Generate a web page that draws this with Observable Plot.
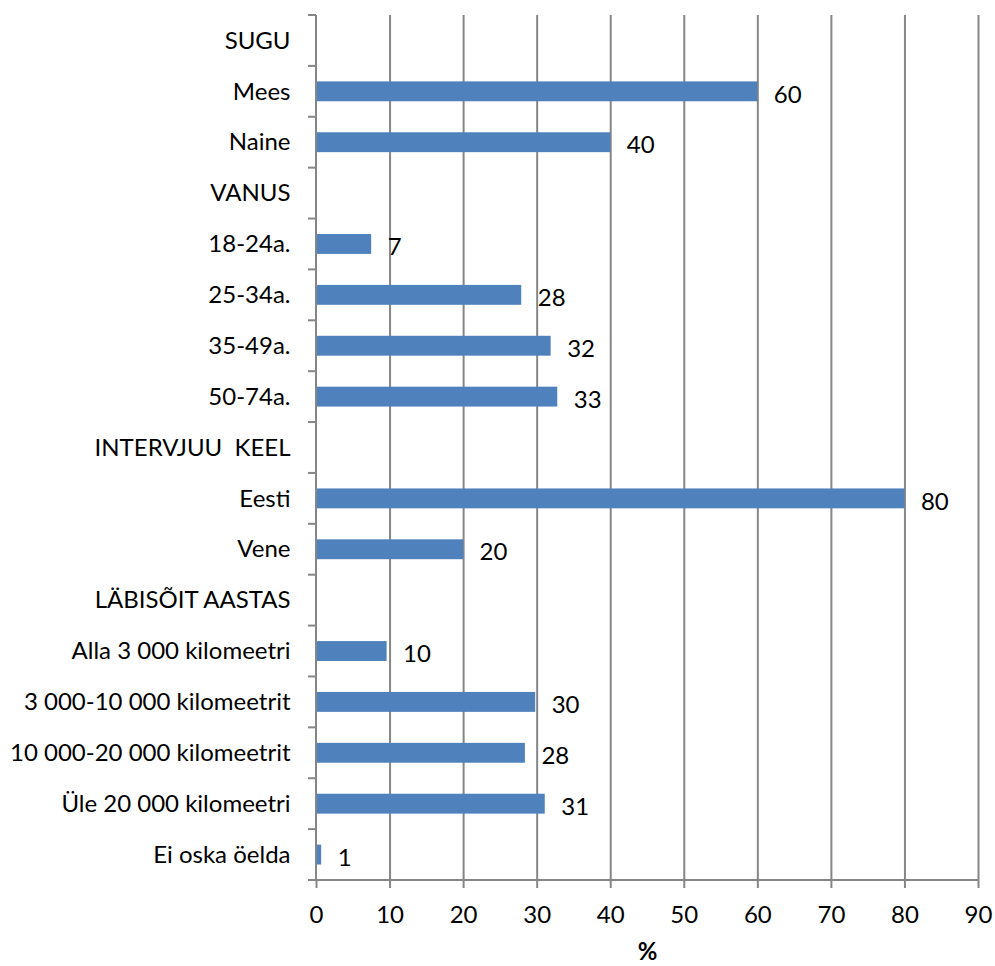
<!DOCTYPE html>
<html>
<head>
<meta charset="utf-8">
<script src="https://cdn.jsdelivr.net/npm/d3@7"></script>
<script src="https://cdn.jsdelivr.net/npm/@observablehq/plot@0.6"></script>
<style>
  html, body { margin: 0; padding: 0; background: #fff; overflow: hidden; }
  #chart svg { display: block; }
</style>
</head>
<body>
<div id="chart"></div>
<script>
const categories = [
  "SUGU", "Mees", "Naine",
  "VANUS", "18-24a.", "25-34a.", "35-49a.", "50-74a.",
  "INTERVJUU  KEEL", "Eesti", "Vene",
  "LÄBISÕIT AASTAS", "Alla 3 000 kilomeetri", "3 000-10 000 kilomeetrit",
  "10 000-20 000 kilomeetrit", "Üle 20 000 kilomeetri", "Ei oska öelda"
];
const values = [null, 60, 40, null, 7.5, 27.9, 31.9, 32.8, null, 80, 20, null, 9.6, 29.8, 28.4, 31.1, 0.7];
const valueLabels = [null, "60", "40", null, "7", "28", "32", "33", null, "80", "20", null, "10", "30", "28", "31", "1"];
const xTicks = [0, 10, 20, 30, 40, 50, 60, 70, 80, 90];
const xLabel = "%";

const data = categories.map((c, i) => ({cat: c, value: values[i], label: valueLabels[i]}))
  .filter(d => d.value != null);

const gray = "#868686";

const bandTicks = (index, scales, values, dimensions, context) => {
  const y = scales.y;
  const x = scales.x;
  const g = d3.create("svg:g");
  const bw = y.bandwidth ? y.bandwidth() : (dimensions.height - dimensions.marginTop - dimensions.marginBottom) / categories.length;
  const x0 = x(0);
  const edges = categories.map(c => y(c)).concat([y(categories[categories.length - 1]) + bw]);
  g.append("line")
    .attr("x1", x0).attr("x2", x0)
    .attr("y1", edges[0]).attr("y2", edges[edges.length - 1])
    .attr("stroke", gray).attr("stroke-width", 2);
  g.append("line")
    .attr("x1", x0 - 8).attr("x2", x(90) + 1)
    .attr("y1", edges[edges.length - 1]).attr("y2", edges[edges.length - 1])
    .attr("stroke", gray).attr("stroke-width", 2);
  for (const e of edges) {
    g.append("line")
      .attr("x1", x0 - 8).attr("x2", x0)
      .attr("y1", e).attr("y2", e)
      .attr("stroke", gray).attr("stroke-width", 2);
  }
  return g.node();
};

const FS = 24;

const chart = Plot.plot({
  width: 995,
  height: 966,
  marginTop: 15,
  marginBottom: 86,
  marginLeft: 316,
  marginRight: 17,
  style: {fontFamily: "Lato, 'Open Sans', sans-serif", fontSize: FS + "px", color: "black", background: "white"},
  x: {domain: [0, 90]},
  y: {domain: categories, padding: 0, round: false},
  marks: [
    Plot.gridX(xTicks.filter(d => d > 0), {stroke: gray, strokeOpacity: 1, strokeWidth: 2}),
    Plot.barX(data, {x: "value", y: "cat", fill: "#4F81BD", insetTop: 15.5, insetBottom: 15.5}),
    Plot.text(data, {x: "value", y: "cat", text: "label", dx: 16, dy: 3, textAnchor: "start", fill: "black", fontSize: FS}),
    bandTicks,
    Plot.axisX({ticks: xTicks, tickSize: 8, tickPadding: 17, stroke: gray, strokeWidth: 2, strokeOpacity: 1, label: null, fill: "black", fontSize: FS}),
    Plot.axisY({tickSize: 0, tickPadding: 26, label: null, fill: "black", fontSize: FS}),
    Plot.text([xLabel], {frameAnchor: "bottom", lineAnchor: "middle", dy: 72, fontWeight: "bold", fontSize: FS, fill: "black"})
  ]
});

document.getElementById("chart").appendChild(chart);
</script>
</body>
</html>
